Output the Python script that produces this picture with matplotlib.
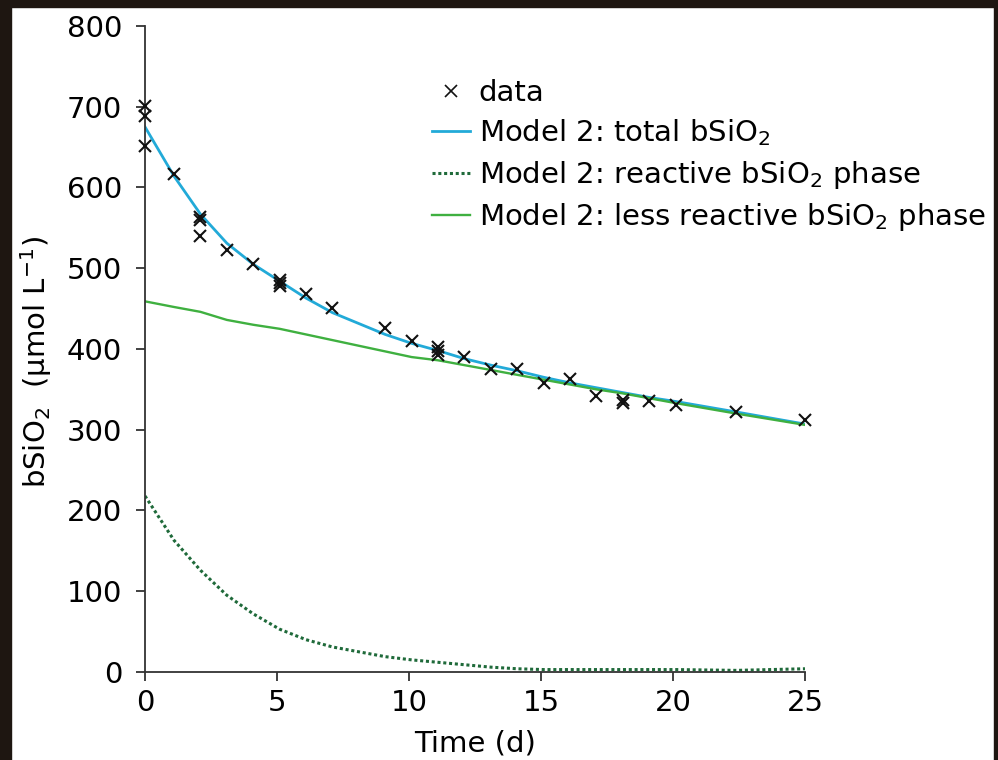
import numpy as np
import matplotlib.pyplot as plt
from matplotlib.patches import Rectangle
from matplotlib.lines import Line2D

plt.rcParams['font.family'] = ['DejaVu Sans']
plt.rcParams['mathtext.fontset'] = 'dejavusans'

# measured bSiO2 (umol/L)
data_t = [0, 0, 0, 1.1, 2.1, 2.1, 2.1, 3.1, 4.1, 5.1, 5.1, 5.1, 6.1, 7.1, 9.1,
          10.1, 11.1, 11.1, 11.1, 12.1, 13.1, 14.1, 15.1, 16.1, 17.1, 18.1,
          18.1, 19.1, 20.1, 22.4, 25]
data_y = [701, 688, 651, 617, 564, 560, 540, 523, 505, 486, 482, 478, 468, 451,
          426, 410, 402, 397, 392, 390, 375, 375, 358, 363, 342, 337, 333, 336,
          331, 322, 312]

# model 2 curves
model_t = [0, 1.1, 2.1, 3.1, 4.1, 5.1, 6.1, 7.1, 9.1, 10.1, 11.1, 12.1, 13.1,
           14.1, 15.1, 16.1, 17.1, 18.1, 19.1, 20.1, 22.4, 25]
total = [675, 614, 567, 531, 505, 484, 463, 445, 418, 407, 398, 388, 380, 373,
         365, 358, 352, 346, 340, 335, 322, 307]
reactive = [218, 163, 126, 95, 72, 53, 40, 31, 19, 15, 12, 9, 6, 4, 3, 3, 3, 3,
            3, 3, 2, 4]
less_reactive = [459, 452, 446, 436, 430, 425, 418, 411, 397, 390, 386, 380,
                 374, 368, 362, 356, 350, 345, 339, 333, 320, 306]

fs = 21

fig = plt.figure(figsize=(9.98, 7.6), dpi=100)
ax = fig.add_axes([0.1453, 0.1158, 0.6613, 0.85])

ax.plot(model_t, total, color='#22aad8', lw=2.0, zorder=2)
ax.plot(model_t, reactive, color='#1f6a3a', lw=2.2, ls=(0, (1, 0.9)), zorder=2)
ax.plot(model_t, less_reactive, color='#3fb040', lw=1.7, zorder=2)
ax.plot(data_t, data_y, ls='none', marker='x', ms=9, mew=1.5, color='#111111',
        clip_on=False, zorder=3)

ax.set_xlim(0, 25)
ax.set_ylim(0, 800)
ax.set_xticks([0, 5, 10, 15, 20, 25])
ax.set_yticks(range(0, 801, 100))
for s in ['top', 'right']:
    ax.spines[s].set_visible(False)
for s in ['left', 'bottom']:
    ax.spines[s].set_color('#333333')
    ax.spines[s].set_linewidth(1.3)
ax.tick_params(direction='out', length=6.5, width=1.3, color='#333333',
               labelsize=fs)
ax.tick_params(axis='y', pad=10)
ax.tick_params(axis='x', pad=6)

ax.set_xlabel('Time (d)', fontsize=fs, labelpad=9)
ax.set_ylabel(r'bSiO$_2$  (µmol L$^{-1}$)', fontsize=fs)
ax.yaxis.set_label_coords(-0.138, 0.48)

handles = [
    Line2D([], [], ls='none', marker='x', ms=8, mew=1.2, color='#111111'),
    Line2D([], [], color='#22aad8', lw=2.0),
    Line2D([], [], color='#1f6a3a', lw=2.2, ls=(0, (1, 0.9))),
    Line2D([], [], color='#3fb040', lw=1.7),
]
labels = ['data', r'Model 2: total bSiO$_2$',
          r'Model 2: reactive bSiO$_2$ phase',
          r'Model 2: less reactive bSiO$_2$ phase']
fig.legend(handles, labels, loc='upper left',
           bbox_to_anchor=(432 / 998, 1 - 79 / 760), frameon=False,
           fontsize=fs, handlelength=1.3, handletextpad=0.3,
           labelspacing=0.36, borderpad=0, borderaxespad=0)

# dark frame around the picture
frame = '#1e1611'
fig.patches.append(Rectangle((0, 1 - 7 / 760), 1, 7 / 760, transform=fig.transFigure,
                             color=frame, zorder=10))
fig.patches.append(Rectangle((0, 0), 11 / 998, 1, transform=fig.transFigure,
                             color=frame, zorder=10))
fig.patches.append(Rectangle((994 / 998, 0), 4 / 998, 1, transform=fig.transFigure,
                             color=frame, zorder=10))

fig.savefig('out.png', dpi=100)
